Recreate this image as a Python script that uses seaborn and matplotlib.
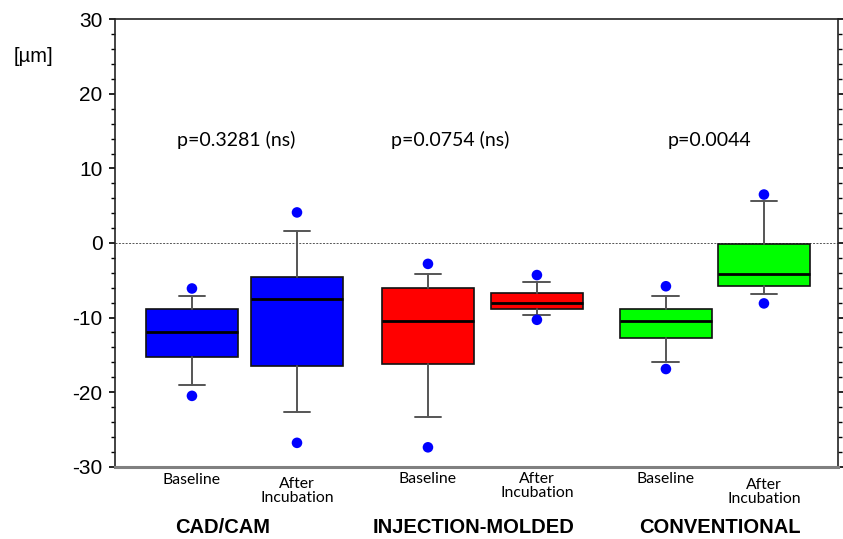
import matplotlib
matplotlib.use("Agg")
import matplotlib.pyplot as plt
import seaborn as sns
import pandas as pd
from matplotlib.ticker import MultipleLocator

# ---- data ----
groups = ["CAD/CAM", "INJECTION-MOLDED", "CONVENTIONAL"]
conditions = ["Baseline", "After\nIncubation"]
q1 = [-15.3, -16.5, -16.2, -8.8, -12.8, -5.8]
medians = [-11.9, -7.5, -10.4, -8.0, -10.5, -4.2]
q3 = [-8.9, -4.6, -6.1, -6.7, -8.8, -0.2]
whis_low = [-19.0, -22.7, -23.3, -9.7, -15.9, -6.9]
whis_high = [-7.1, 1.6, -4.2, -5.2, -7.1, 5.6]
point_low = [-20.5, -26.8, -27.4, -10.3, -16.9, -8.1]
point_high = [-6.1, 4.1, -2.8, -4.3, -5.8, 6.5]
p_texts = ["p=0.3281 (ns)", "p=0.0754 (ns)", "p=0.0044"]
y_ticks = [-30, -20, -10, 0, 10, 20, 30]

# ---- style / layout ----
box_colors = ["#0000ff", "#0000ff", "#ff0000", "#ff0000", "#00ff00", "#00ff00"]
positions = [0.745, 1.762, 3.03, 4.085, 5.334, 6.283]
box_width = 0.89
group_label_x = [1.045, 3.475, 5.857]
p_x = [1.17, 3.25, 5.76]
cond_offsets_px = [13, 24, 12, 19, 12, 25]

sns.set_style("white")
plt.rcParams["font.family"] = ["DejaVu Sans"]
plt.rcParams["text.color"] = "black"
plt.rcParams["ytick.color"] = "black"

fig = plt.figure(figsize=(8.43, 5.39), dpi=100)
ax = fig.add_axes([115 / 843, 1 - 466.7 / 539, 723 / 843, (466.7 - 19.3) / 539])

stats = []
for i in range(len(medians)):
    stats.append(dict(med=medians[i], q1=q1[i], q3=q3[i],
                      whislo=whis_low[i], whishi=whis_high[i], fliers=[]))

bp = ax.bxp(stats, positions=positions, widths=box_width, patch_artist=True,
            showfliers=False, manage_ticks=False,
            boxprops=dict(edgecolor="#111111", linewidth=1.2),
            medianprops=dict(color="black", linewidth=2.0),
            whiskerprops=dict(color="#555555", linewidth=1.4),
            capprops=dict(color="#555555", linewidth=1.4))
for patch, c in zip(bp["boxes"], box_colors):
    patch.set_facecolor(c)
for cap in bp["caps"]:
    x0, x1 = cap.get_xdata()
    xc = (x0 + x1) / 2
    cap.set_xdata([xc - 0.13, xc + 0.13])

pts = pd.DataFrame({"x": positions * 2, "y": point_low + point_high})
sns.scatterplot(data=pts, x="x", y="y", color="#0000ff", s=58,
                edgecolor="none", ax=ax, zorder=5)

ax.axhline(0, color="#555555", linewidth=0.7, linestyle=(0, (2, 1.5)), zorder=1)

ax.set_xlim(0, 7)
ax.set_ylim(-30, 30)
ax.set_yticks(y_ticks)
ax.set_yticklabels([str(v) for v in y_ticks], fontsize=15,
                   family=["Liberation Sans", "DejaVu Sans"], color="black")
ax.yaxis.set_minor_locator(MultipleLocator(2))
ax.tick_params(axis="y", which="major", length=4, width=1.2, direction="out",
               left=True, right=True, pad=5)
ax.tick_params(axis="y", which="minor", length=3, width=1.0, direction="out",
               left=True, right=True)
ax.set_xticks([])
ax.set_xlabel("")
ax.set_ylabel("")

for side in ["left", "right", "top"]:
    ax.spines[side].set_color("#222222")
    ax.spines[side].set_linewidth(1.2)
ax.spines["bottom"].set_color("#808080")
ax.spines["bottom"].set_linewidth(2.2)

for txt, x in zip(p_texts, p_x):
    ax.text(x, 13.8, txt, ha="center", va="center", fontsize=14,
            family=["Lato", "DejaVu Sans"], color="black")

for i, x in enumerate(positions):
    ax.annotate(conditions[i % 2], xy=(x, 0), xycoords=("data", "axes fraction"),
                xytext=(0, -cond_offsets_px[i] * 0.72), textcoords="offset points",
                ha="center", va="center", fontsize=11.3, linespacing=1.0,
                family=["Lato", "DejaVu Sans"], color="black",
                annotation_clip=False)

for g, x in zip(groups, group_label_x):
    ax.annotate(g, xy=(x, 0), xycoords=("data", "axes fraction"),
                xytext=(0, -61 * 0.72), textcoords="offset points",
                ha="center", va="center", fontsize=14.5, fontweight="bold",
                family=["Liberation Sans", "DejaVu Sans"], color="black",
                annotation_clip=False)

fig.text(33 / 843, 1 - 57 / 539, "[µm]", ha="center", va="center", fontsize=14.5,
         family=["Liberation Sans", "DejaVu Sans"], color="black")

fig.savefig("out.png", dpi=100)
